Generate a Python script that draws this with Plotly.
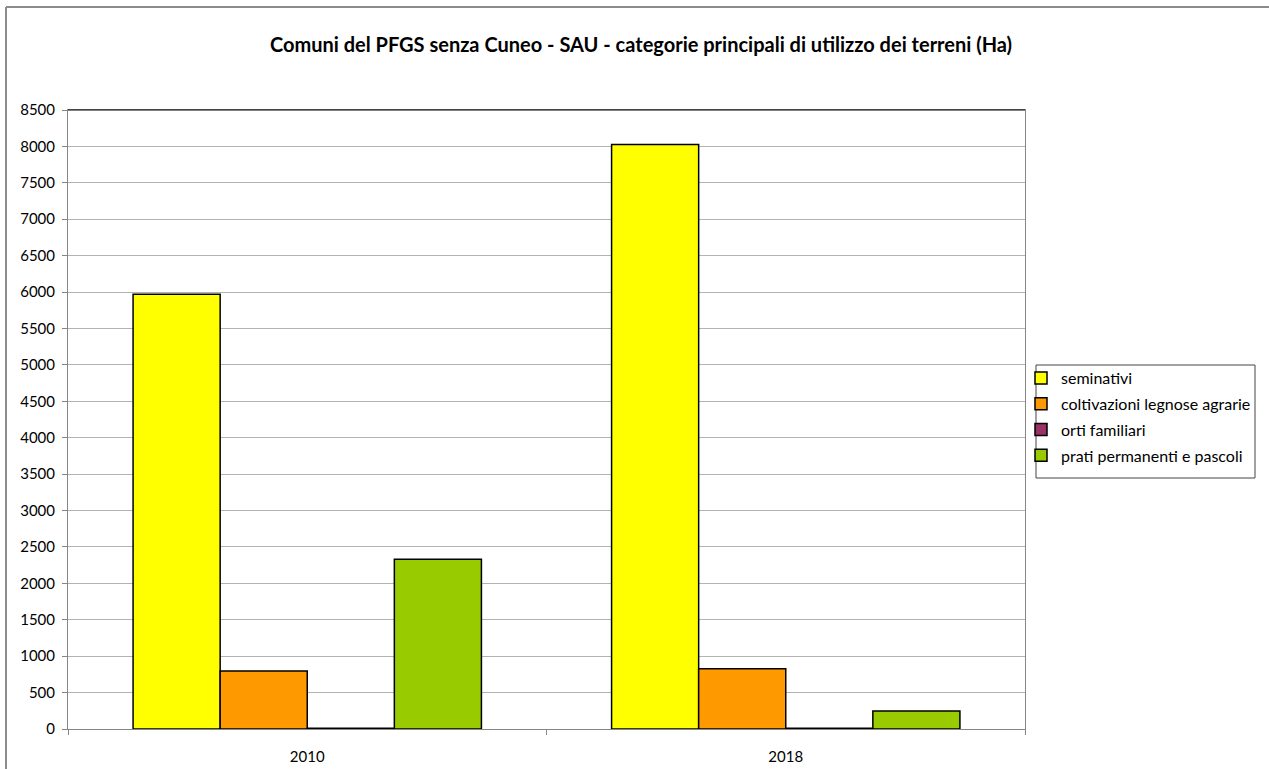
import plotly.graph_objects as go

years = ["2010", "2018"]
series_names = ["seminativi", "coltivazioni legnose agrarie", "orti familiari", "prati permanenti e pascoli"]
seminativi = [5970, 8025]
coltivazioni = [795, 827]
orti = [12, 10]
prati = [2330, 247]
colors = ["#FFFF00", "#FF9900", "#993366", "#99CC00"]
y_ticks = list(range(0, 8501, 500))

W, H = 1269, 769
L, R, T, B = 68, 244, 110, 40
pw = W - L - R
ph = H - T - B

fig = go.Figure()
for i, (name, vals, col) in enumerate(zip(series_names, [seminativi, coltivazioni, orti, prati], colors)):
    fig.add_trace(go.Bar(x=years, y=vals, name=name, legendgroup=f"g{i}",
                         marker=dict(color=col, line=dict(color="#000000", width=1.5))))

font_family = "Lato, Carlito, Calibri, sans-serif"


def px_x(p):
    return (p - L) / pw


def px_y(p):
    return (H - B - p) / ph


fig.update_layout(
    width=W, height=H,
    margin=dict(l=L, r=R, t=T, b=B, autoexpand=False),
    paper_bgcolor="white", plot_bgcolor="white",
    barmode="group", bargap=0.272, bargroupgap=0,
    font=dict(family=font_family, size=15, color="#000000"),
    title=dict(text="<b>Comuni del PFGS senza Cuneo - SAU - categorie principali di utilizzo dei terreni (Ha)</b>",
               x=641 / W, xanchor="center", xref="container",
               y=1 - 45 / H, yanchor="middle", yref="container",
               font=dict(family=font_family, size=20, color="#000000")),
    xaxis=dict(type="category", showline=True, linecolor="#868686", linewidth=1,
               ticks="outside", ticklen=5, tickcolor="#868686", tickson="boundaries",
               showgrid=False, tickfont=dict(size=15), mirror=True, ticklabelstandoff=14),
    yaxis=dict(range=[0, 8500], tickvals=y_ticks, showline=True, linecolor="#868686", linewidth=1,
               ticks="outside", ticklen=5, tickcolor="#868686",
               showgrid=True, gridcolor="#b3b3b3", gridwidth=1, zeroline=False,
               tickfont=dict(size=15), mirror=True, ticklabelstandoff=4),
    legend=dict(x=px_x(1021), y=px_y(361), xanchor="left", yanchor="top",
                borderwidth=0, bgcolor="rgba(0,0,0,0)",
                font=dict(family=font_family, size=16), tracegroupgap=2,
                traceorder="grouped"),
    showlegend=True,
    shapes=[
        dict(type="line", xref="paper", yref="paper", x0=0, x1=1, y0=1, y1=1,
             line=dict(color="#000000", width=1)),
        dict(type="rect", xref="paper", yref="paper",
             x0=px_x(1036), x1=px_x(1255), y0=px_y(478), y1=px_y(365),
             line=dict(color="#444444", width=1), fillcolor="white", layer="below"),
        dict(type="line", xref="paper", yref="paper",
             x0=px_x(6), x1=px_x(W), y0=px_y(7), y1=px_y(7),
             line=dict(color="#8c8c8c", width=2), layer="above"),
        dict(type="line", xref="paper", yref="paper",
             x0=px_x(6), x1=px_x(6), y0=px_y(7), y1=px_y(H),
             line=dict(color="#8c8c8c", width=2), layer="above"),
    ],
)

fig.write_html("out.html", config={"displayModeBar": False},
               post_script="document.body.style.margin='0';document.body.style.overflow='hidden';")
